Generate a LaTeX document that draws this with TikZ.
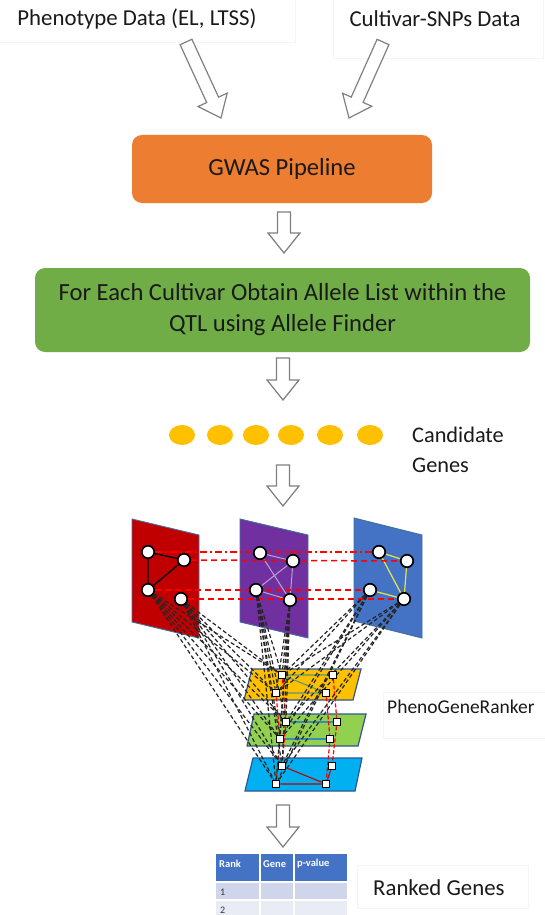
\documentclass[tikz,border=0pt]{standalone}
\usepackage{fontspec}
\setmainfont{Carlito}
\usetikzlibrary{calc,shapes.geometric}
\definecolor{gwasor}{HTML}{ED7D31}
\definecolor{stepgr}{HTML}{70AD47}
\definecolor{geneyl}{HTML}{FFC000}
\definecolor{plred}{HTML}{C00000}
\definecolor{plpur}{HTML}{7030A0}
\definecolor{plblu}{HTML}{4472C4}
\definecolor{plbord}{HTML}{41719C}
\definecolor{lyor}{HTML}{FFC000}
\definecolor{lygr}{HTML}{92D050}
\definecolor{lybl}{HTML}{00B0F0}
\definecolor{lybord}{HTML}{2F5597}
\definecolor{thead}{HTML}{4472C4}
\definecolor{trowa}{HTML}{CFD5EA}
\definecolor{trowb}{HTML}{E9EBF5}
\definecolor{puredge}{HTML}{B9A3CF}
\definecolor{yeledge}{HTML}{E6E64A}
\definecolor{oredge}{HTML}{4F9A7C}
\definecolor{gredge}{HTML}{3A8DB0}
\definecolor{txt}{HTML}{1A1A1A}
\pgfdeclarelayer{back}
\pgfdeclarelayer{mid}
\pgfsetlayers{back,mid,main}
\newcommand{\hollowarrow}[2]{%
  \coordinate (hneck) at ($(#2)!20pt!(#1)$);
  \draw[harrow] ($(#1)!6.5pt!90:(#2)$) -- ($(hneck)!6.5pt!90:(#2)$) -- ($(hneck)!16pt!90:(#2)$) -- (#2) -- ($(hneck)!16pt!-90:(#2)$) -- ($(hneck)!6.5pt!-90:(#2)$) -- ($(#1)!6.5pt!-90:(#2)$) -- cycle;}
\begin{document}
\begin{tikzpicture}[x=1pt,y=-1pt,
  lbl/.style={font=\fontsize{22.8}{27}\selectfont, text=txt, inner sep=0},
  boxtxt/.style={font=\fontsize{24.6}{31}\selectfont, text=txt, align=center},
  harrow/.style={draw=black!50, fill=white, line width=1.2pt, line join=miter},
  faint/.style={draw=black!4, line width=0.8pt},
  plane/.style={draw=plbord, line width=0.9pt},
  layer/.style={draw=lybord, line width=1.2pt},
  cnode/.style={circle, draw=black, fill=white, line width=1.7pt, minimum size=12.5pt, inner sep=0},
  snode/.style={rectangle, draw=black, fill=white, line width=1.3pt, minimum size=7.5pt, inner sep=0},
  bdash/.style={draw=black!85, dash pattern=on 4pt off 2.5pt, line width=1.2pt},
  rdash/.style={draw=red, dash pattern=on 6pt off 4pt, line width=1.5pt},
  rdashdot/.style={draw=red, dash pattern=on 7pt off 3pt on 2pt off 3pt, line width=1.5pt},
  vdash/.style={draw=red, dash pattern=on 4pt off 2pt, line width=1.2pt},
  gene/.style={ellipse, fill=geneyl, minimum width=26pt, minimum height=20pt, inner sep=0},
  celltxt/.style={anchor=west, inner sep=0, font=\fontsize{10}{12}\selectfont, text=black!80},
  headtxt/.style={anchor=west, inner sep=0, font=\bfseries\fontsize{10.5}{12}\selectfont, text=white}
]
\useasboundingbox (0,0) rectangle (544,915);
\begin{pgfonlayer}{back}
\fill[white] (0,0) rectangle (544,915);
\end{pgfonlayer}

% faint label frames
\draw[faint] (-2,42) -- (295,42) -- (295,-2);
\draw[faint] (333,-2) -- (333,58) -- (543,58) -- (543,-2);
\draw[faint] (546,692) -- (383,692) -- (383,738) -- (546,738);
\draw[faint] (357,865) rectangle (528,908);

% top labels
\node[lbl] (pheno) at (137,19) {Phenotype Data (EL, LTSS)};
\node[lbl] (cult) at (435,19) {Cultivar-SNPs Data};

% GWAS box
\node[boxtxt, fill=gwasor, rounded corners=10pt, minimum width=300pt, minimum height=68pt] (gwas) at (282,169) {GWAS Pipeline};
% green box
\node[boxtxt, fill=stepgr, rounded corners=10pt, minimum width=495pt, minimum height=84pt, inner sep=0] (allele) at (282.5,310)
  {For Each Cultivar Obtain Allele List within the\\QTL using Allele Finder};

% candidate genes
\foreach \i/\x in {1/182,2/220,3/256,4/291,5/330,6/370}
  \node[gene] (g\i) at (\x,435) {};
\node[anchor=west, inner sep=0, align=left, font=\fontsize{22.3}{30}\selectfont, text=txt] (cand) at (412,450) {Candidate\\Genes};

% hollow arrows
\coordinate (a1s) at (186,42); \coordinate (a1e) at (221,118);
\coordinate (a2s) at (383,42); \coordinate (a2e) at (349,118);
\coordinate (a3s) at (284,212); \coordinate (a3e) at (284,253);
\coordinate (a4s) at (283,358); \coordinate (a4e) at (283,400);
\coordinate (a5s) at (283,465); \coordinate (a5e) at (283,506);
\coordinate (a6s) at (283,805); \coordinate (a6e) at (283,847);
\hollowarrow{a1s}{a1e}
\hollowarrow{a2s}{a2e}
\hollowarrow{a3s}{a3e}
\hollowarrow{a4s}{a4e}
\hollowarrow{a5s}{a5e}
\hollowarrow{a6s}{a6e}

% planes
\begin{pgfonlayer}{back}
\fill[plred, plane] (132,519) -- (199,535) -- (199,638) -- (132,622) -- cycle;
\fill[plpur, plane] (240,519) -- (308,535) -- (308,638) -- (240,622) -- cycle;
\fill[plblu, plane] (354,518) -- (422,535) -- (422,638) -- (354,621) -- cycle;
\fill[lyor, layer] (252,669) -- (361,669) -- (353,700) -- (244,700) -- cycle;
\fill[lygr, layer] (254,714) -- (366,714) -- (358,746) -- (247,746) -- cycle;
\fill[lybl, layer] (253,758) -- (362,758) -- (355,791) -- (245,791) -- cycle;
\end{pgfonlayer}

% plane nodes
\node[cnode] (A) at (148,552) {};
\node[cnode] (B) at (184,560) {};
\node[cnode] (C) at (148,590) {};
\node[cnode] (D) at (181,599) {};
\node[cnode] (P1) at (260,553) {};
\node[cnode] (P2) at (293,561) {};
\node[cnode] (P3) at (256,590) {};
\node[cnode] (P4) at (290,600) {};
\node[cnode] (Q1) at (379,552) {};
\node[cnode] (Q2) at (407,561) {};
\node[cnode] (Q3) at (370,590) {};
\node[cnode] (Q4) at (404,599) {};

% layer nodes
\node[snode] (O1) at (282,675) {};
\node[snode] (O2) at (333,675) {};
\node[snode] (O3) at (276,693) {};
\node[snode] (O4) at (326,693) {};
\node[snode] (G1) at (286,722) {};
\node[snode] (G2) at (337,722) {};
\node[snode] (G3) at (280,739) {};
\node[snode] (G4) at (330,739) {};
\node[snode] (B1) at (282,766) {};
\node[snode] (B2) at (332,766) {};
\node[snode] (B3) at (276,784) {};
\node[snode] (B4) at (326,784) {};

\begin{pgfonlayer}{mid}
% in-plane edges
\draw[black, line width=1.3pt] (A) -- (B) (A) -- (C) (C) -- (B);
\draw[puredge, line width=1pt] (P1) -- (P2) (P1) -- (P4) (P2) -- (P3) (P2) -- (P4) (P3) -- (P4);
\draw[yeledge, line width=1.2pt] (Q1) -- (Q2) (Q1) -- (Q4) (Q2) -- (Q4) (Q3) -- (Q4);
% layer edges
\draw[oredge, line width=1.1pt] (O1) -- (O2) (O1) -- (O4) (O3) -- (O4);
\draw[gredge, line width=1.1pt] (G1) -- (G2) (G3) -- (G4);
\draw[plred, line width=1.1pt] (B1) -- (B4) (B3) -- (B4) (B2) -- (B4);
% inter-plane red lines
\draw[rdashdot] (A) -- (Q1);
\draw[rdash] (B) -- (Q2);
\draw[rdash] (C) -- (Q3);
\draw[rdash] (D) -- (Q4);
% vertical red lines between layers
\draw[vdash] (O1) -- (G1) -- (B1);
\draw[vdash] (O3) -- (G3) -- (B3);
\draw[vdash] (O2) -- (G2) -- (B2);
\draw[vdash] (O4) -- (G4) -- (B4);
% black dashed mapping lines
\foreach \s in {C,D,P3,P4,Q3,Q4}
  \foreach \t in {O1,O3,G1,G3,B1,B3}
    \draw[bdash] (\s) -- (\t);
\end{pgfonlayer}

\node[anchor=west, inner sep=0, font=\fontsize{19.5}{22}\selectfont, text=txt] (pgr) at (387,707) {PhenoGeneRanker};

% table
\fill[thead] (216,854) rectangle (347,882);
\fill[trowa] (216,882) rectangle (347,900);
\fill[trowb] (216,900) rectangle (347,920);
\draw[white, line width=1.3pt] (260,854) -- (260,920) (294,854) -- (294,920) (216,882) -- (347,882) (216,900) -- (347,900);
\node[headtxt] (hr) at (219,864) {Rank};
\node[headtxt] (hg) at (263,864) {Gene};
\node[headtxt] (hp) at (297,864) {p-value};
\node[celltxt] (r1) at (220,892) {1};
\node[celltxt] (r2) at (220,910) {2};

\node[anchor=west, inner sep=0, font=\fontsize{22.8}{27}\selectfont, text=txt] (ranked) at (373,888) {Ranked Genes};
\end{tikzpicture}
\end{document}
